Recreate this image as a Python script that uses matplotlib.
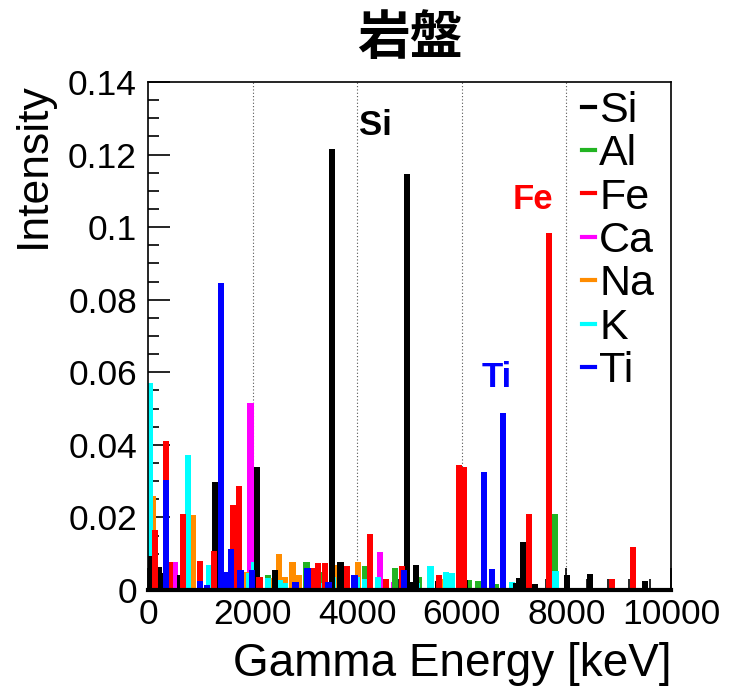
import matplotlib
matplotlib.use("Agg")
import matplotlib.pyplot as plt
from matplotlib.lines import Line2D
from matplotlib.ticker import MultipleLocator, FuncFormatter

plt.rcParams['font.family'] = ['Liberation Sans', 'DejaVu Sans']

# gamma lines per element: energy [keV] and relative intensity
si_energy = [50, 210, 300, 610, 1280, 2080, 2430, 3520, 3680, 4950, 5130, 5000,
             5540, 5950, 6050, 7100, 7170, 7240, 7030, 7400, 8010, 8450, 9500]
si_value = [0.0094, 0.0064, 0.0047, 0.0041, 0.0298, 0.034, 0.0055, 0.1215, 0.0077,
            0.1146, 0.0069, 0.0023, 0.0026, 0.003, 0.0028, 0.0033, 0.0132, 0.0038,
            0.002, 0.0017, 0.004, 0.0044, 0.0025]

al_energy = [2300, 2600, 3030, 3350, 4150, 4720, 5170, 6130, 6320, 6650, 7770]
al_value = [0.0041, 0.0037, 0.0078, 0.005, 0.0067, 0.006, 0.0036, 0.0028, 0.0026,
            0.0017, 0.021]

fe_energy = [130, 345, 420, 670, 990, 1260, 1620, 1740, 2130, 3150, 3250, 3380,
             3800, 4240, 4550, 4850, 5570, 5950, 6040, 7290, 7660, 8870, 9270]
fe_value = [0.0165, 0.041, 0.0077, 0.021, 0.008, 0.0107, 0.0234, 0.0287, 0.0036,
            0.006, 0.0074, 0.0074, 0.0067, 0.0154, 0.003, 0.0067, 0.0041, 0.0345,
            0.034, 0.021, 0.0984, 0.003, 0.0118]

ca_energy = [520, 1960, 3770, 4430, 4700, 5960]
ca_value = [0.0077, 0.0515, 0.0023, 0.0106, 0.0023, 0.0041]

na_energy = [100, 860, 1870, 2140, 2310, 2510, 2620, 2760, 2880, 3120, 3620,
             4010, 5630]
na_value = [0.026, 0.0208, 0.005, 0.0037, 0.0033, 0.0099, 0.0037, 0.0077, 0.004,
            0.005, 0.0069, 0.0078, 0.003]

k_energy = [40, 770, 660, 1160, 1260, 1700, 1930, 2030, 2300, 2520, 2620, 3270,
            3540, 4000, 4160, 4400, 5140, 5400, 5700, 5800, 6960, 7790]
k_value = [0.057, 0.0372, 0.0023, 0.0069, 0.0037, 0.01, 0.0047, 0.0077, 0.0032,
           0.0028, 0.0018, 0.002, 0.0036, 0.0037, 0.003, 0.0037, 0.002, 0.0066,
           0.005, 0.0048, 0.0023, 0.0053]

ti_energy = [345, 990, 1130, 1400, 1480, 1590, 1770, 1990, 2820, 3050, 3450,
             3950, 4900, 6420, 6570, 6790]
ti_value = [0.0303, 0.0025, 0.0015, 0.0846, 0.005, 0.0113, 0.0055, 0.0055, 0.0023,
            0.006, 0.0023, 0.0041, 0.0055, 0.0325, 0.0058, 0.0488]

elements = ['Si', 'Al', 'Fe', 'Ca', 'Na', 'K', 'Ti']
colors = {'Si': '#000000', 'Al': '#22b422', 'Fe': '#ff0000', 'Ca': '#ff00ff',
          'Na': '#ff8c00', 'K': '#00ffff', 'Ti': '#0000ff'}
series = {'Si': (si_energy, si_value), 'Al': (al_energy, al_value),
          'Fe': (fe_energy, fe_value), 'Ca': (ca_energy, ca_value),
          'Na': (na_energy, na_value), 'K': (k_energy, k_value),
          'Ti': (ti_energy, ti_value)}
draw_order = ['Ca', 'Al', 'Na', 'K', 'Si', 'Fe', 'Ti']

fig = plt.figure(figsize=(7.31, 6.92), dpi=100)
ax = fig.add_axes([0.2025, 0.1474, 0.7155, 0.7341])

for name in draw_order:
    e, v = series[name]
    ax.bar(e, v, width=120, color=colors[name], linewidth=0, zorder=2)

ax.set_xlim(0, 10000)
ax.set_ylim(0, 0.14)

for gx in [2000, 4000, 6000, 8000]:
    ax.axvline(gx, color='#555555', linestyle=(0, (1, 2)), linewidth=0.8, zorder=1)

ax.xaxis.set_major_locator(MultipleLocator(2000))
ax.xaxis.set_minor_locator(MultipleLocator(400))
ax.yaxis.set_major_locator(MultipleLocator(0.02))
ax.yaxis.set_minor_locator(MultipleLocator(0.005))
ax.yaxis.set_major_formatter(FuncFormatter(lambda v, p: '%g' % round(v, 3)))
ax.tick_params(which='both', direction='in', top=False, right=False,
               labelsize=25.5, width=1.2)
ax.tick_params(which='major', length=16)
ax.tick_params(which='minor', length=8)
ax.tick_params(axis='y', pad=8)
ax.tick_params(axis='x', pad=6)

for side in ['top', 'right', 'left']:
    ax.spines[side].set_linewidth(1.2)
ax.spines['bottom'].set_linewidth(3)

ax.set_xlabel('Gamma Energy [keV]', fontsize=33, loc='right', labelpad=8)
ax.set_ylabel('Intensity', fontsize=32, loc='top', labelpad=10)
ax.set_title('岩盤', fontsize=38, fontweight='bold', pad=20,
             family=['Noto Sans CJK JP', 'DejaVu Sans'])

ax.text(4340, 0.128, 'Si', color='black', fontsize=25, fontweight='bold',
        ha='center', va='center', zorder=4)
ax.text(7360, 0.1075, 'Fe', color='red', fontsize=25, fontweight='bold',
        ha='center', va='center', zorder=4)
ax.text(6670, 0.0587, 'Ti', color='#0000ff', fontsize=25, fontweight='bold',
        ha='center', va='center', zorder=4)

handles = [Line2D([0], [0], color=colors[n], linewidth=3) for n in elements]
leg = ax.legend(handles, elements, loc='upper left', bbox_to_anchor=(0.83, 0.983),
                frameon=False, fontsize=31, handlelength=0.3, handletextpad=0.1,
                labelspacing=0.08, borderaxespad=0, borderpad=0)
leg.set_zorder(5)

fig.savefig('out.png', dpi=100)
